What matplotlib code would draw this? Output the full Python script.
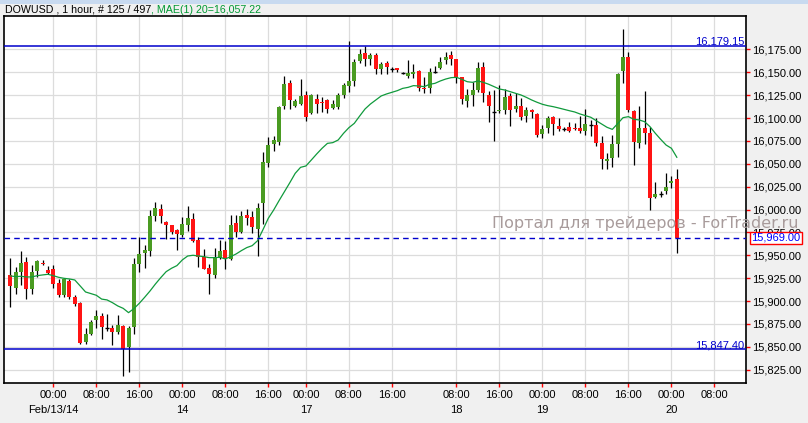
import matplotlib
matplotlib.use('Agg')
import matplotlib.pyplot as plt
from matplotlib.patches import Rectangle
from matplotlib.transforms import blended_transform_factory
import numpy as np

# ---------------- data ----------------
opens = [15928.6, 15914.7, 15931.9, 15943.2, 15913.3, 15933.0, 15941.3, 15934.4, 15935.1, 15920.2,
         15906.7, 15922.0, 15904.5, 15898.0, 15855.4, 15864.5, 15879.4, 15883.8, 15870.5, 15870.7,
         15866.3, 15872.8, 15850.2, 15872.1, 15940.6, 15953.0, 15955.2, 15993.4, 16000.7, 15986.5,
         15982.9, 15977.8, 15972.3, 15983.2, 15989.8, 15966.8, 15948.6, 15936.6, 15928.6, 15947.5,
         15955.9, 15946.1, 15985.4, 15975.9, 15994.5, 15992.0, 15978.8, 16007.0, 16050.6, 16071.7,
         16074.3, 16113.6, 16138.7, 16113.2, 16115.4, 16125.3, 16105.2, 16120.9, 16117.6, 16119.8,
         16111.4, 16112.5, 16125.3, 16135.5, 16140.9, 16162.4, 16170.8, 16165.0, 16169.0, 16153.7,
         16160.2, 16154.1, 16154.4, 16149.1, 16146.4, 16148.6, 16151.5, 16133.3, 16133.3, 16150.7,
         16155.1, 16163.5, 16169.0, 16164.2, 16144.9, 16119.1, 16125.3, 16130.7, 16156.0, 16125.3,
         16106.2, 16108.2, 16108.9, 16124.5, 16110.0, 16113.2, 16102.7, 16108.9, 16104.5, 16082.3,
         16089.6, 16100.9, 16091.4, 16087.7, 16089.9, 16089.2, 16089.6, 16086.3, 16092.3, 16092.5,
         16072.5, 16053.1, 16056.8, 16071.8, 16151.5, 16167.2, 16108.1, 16072.5, 16089.6, 16083.4,
         16013.4, 16017.2, 16020.7, 16029.5, 16033.1]
highs = [15947.2, 15937.0, 15954.8, 15947.9, 15939.5, 15945.0, 15945.0, 15938.8, 15939.5, 15924.6,
         15925.3, 15924.6, 15906.7, 15898.7, 15870.7, 15879.4, 15890.3, 15887.4, 15886.0, 15874.3,
         15884.9, 15873.9, 15873.2, 15947.5, 15970.5, 15961.4, 15999.6, 16008.4, 16006.2, 15987.2,
         15983.6, 15978.5, 15992.3, 16004.0, 15996.0, 15969.7, 15957.0, 15940.6, 15957.7, 15966.8,
         15966.1, 15994.1, 15994.1, 15998.5, 16000.7, 15998.5, 16007.6, 16063.0, 16079.0, 16080.5,
         16113.2, 16146.4, 16141.7, 16120.9, 16142.8, 16129.6, 16126.0, 16126.0, 16123.4, 16120.5,
         16119.8, 16127.1, 16138.0, 16184.0, 16164.2, 16175.9, 16179.2, 16171.5, 16171.5, 16161.7,
         16162.8, 16156.2, 16155.1, 16150.0, 16163.5, 16158.8, 16152.6, 16145.3, 16154.4, 16157.0,
         16166.4, 16172.6, 16173.7, 16164.6, 16145.3, 16131.5, 16139.1, 16161.0, 16161.3, 16130.0,
         16130.7, 16136.2, 16131.5, 16127.8, 16127.1, 16122.3, 16112.5, 16109.6, 16105.2, 16092.5,
         16102.7, 16102.7, 16100.5, 16090.7, 16096.1, 16095.0, 16102.7, 16110.0, 16098.0, 16100.5,
         16080.5, 16061.5, 16081.6, 16149.7, 16197.0, 16172.6, 16108.9, 16113.2, 16130.0, 16090.7,
         16029.8, 16020.7, 16039.7, 16036.7, 16044.4]
lows = [15894.0, 15907.4, 15917.6, 15902.7, 15908.2, 15926.8, 15939.2, 15929.3, 15914.7, 15904.2,
        15904.9, 15902.7, 15895.1, 15853.2, 15853.2, 15863.4, 15870.3, 15858.3, 15867.7, 15852.1,
        15864.5, 15818.6, 15822.9, 15864.1, 15932.2, 15936.6, 15949.3, 15988.0, 15985.0, 15968.3,
        15973.0, 15955.9, 15969.7, 15977.0, 15964.6, 15937.0, 15934.8, 15908.2, 15925.3, 15946.4,
        15935.5, 15945.0, 15970.5, 15974.1, 15982.9, 15974.1, 15949.7, 15984.5, 16047.0, 16064.0,
        16070.6, 16110.0, 16110.0, 16111.8, 16114.3, 16097.2, 16104.5, 16106.0, 16107.0, 16105.2,
        16110.3, 16110.0, 16122.3, 16128.9, 16135.5, 16159.9, 16157.0, 16158.0, 16147.8, 16147.8,
        16148.2, 16150.8, 16150.8, 16148.6, 16143.5, 16143.5, 16130.0, 16127.8, 16127.8, 16149.0,
        16153.3, 16159.1, 16157.7, 16138.0, 16115.4, 16112.5, 16113.6, 16129.0, 16118.0, 16096.1,
        16075.4, 16105.2, 16104.1, 16091.8, 16106.3, 16098.0, 16096.1, 16100.5, 16079.7, 16077.9,
        16083.4, 16081.6, 16085.9, 16086.3, 16084.5, 16087.0, 16084.1, 16081.6, 16080.8, 16069.5,
        16044.4, 16044.4, 16047.0, 16057.9, 16138.0, 16107.0, 16048.8, 16067.0, 16071.7, 15999.6,
        16012.3, 16014.0, 16017.1, 16023.3, 15953.0]
closes = [15916.6, 15931.9, 15941.7, 15913.3, 15931.9, 15943.9, 15940.6, 15930.8, 15919.1, 15906.7,
          15923.8, 15904.5, 15897.3, 15854.3, 15864.5, 15877.2, 15883.8, 15872.1, 15870.5, 15866.3,
          15873.9, 15847.3, 15870.7, 15940.6, 15951.5, 15956.3, 15993.4, 16001.8, 15993.4, 15983.6,
          15975.9, 15973.7, 15984.3, 15990.9, 15965.7, 15948.6, 15935.5, 15929.6, 15947.9, 15955.2,
          15945.7, 15983.6, 15975.9, 15993.0, 15991.2, 15981.0, 16001.8, 16052.0, 16070.6, 16076.1,
          16112.5, 16137.3, 16119.8, 16118.7, 16124.2, 16101.2, 16125.3, 16115.8, 16116.9, 16110.3,
          16115.8, 16125.3, 16136.2, 16140.9, 16161.7, 16170.1, 16165.0, 16169.3, 16153.3, 16159.1,
          16155.5, 16154.1, 16152.6, 16149.1, 16149.0, 16150.4, 16132.5, 16132.2, 16150.4, 16150.7,
          16161.0, 16166.4, 16165.0, 16144.9, 16121.3, 16125.3, 16130.7, 16154.4, 16127.0, 16113.2,
          16106.2, 16108.9, 16123.4, 16108.9, 16113.6, 16101.6, 16108.9, 16107.1, 16081.6, 16088.1,
          16100.5, 16093.6, 16088.1, 16087.7, 16086.3, 16087.7, 16086.3, 16093.6, 16092.3, 16072.5,
          16055.3, 16055.7, 16071.8, 16148.2, 16167.2, 16108.9, 16074.3, 16089.6, 16083.4, 16013.1,
          16017.1, 16017.2, 16025.1, 16031.7, 15969.0]
ma20 = [15927.5, 15926.8, 15927.1, 15926.4, 15926.4, 15927.8, 15928.6, 15929.3, 15927.8, 15926.0,
        15924.9, 15924.2, 15923.1, 15916.6, 15910.0, 15908.2, 15906.4, 15902.2, 15901.3, 15898.3,
        15894.7, 15892.1, 15887.4, 15891.8, 15897.6, 15904.2, 15911.1, 15918.7, 15925.7, 15932.2,
        15935.9, 15938.8, 15945.0, 15949.3, 15950.1, 15949.3, 15948.6, 15947.5, 15947.5, 15947.9,
        15946.1, 15948.6, 15951.5, 15955.2, 15958.5, 15960.6, 15966.0, 15978.0, 15990.5, 15999.6,
        16009.8, 16019.6, 16029.4, 16039.6, 16046.2, 16047.7, 16054.2, 16060.8, 16067.0, 16072.4,
        16073.2, 16076.1, 16083.4, 16089.6, 16094.3, 16102.3, 16110.0, 16115.4, 16119.8, 16124.2,
        16126.4, 16128.2, 16130.0, 16132.5, 16133.6, 16135.5, 16135.1, 16134.4, 16136.9, 16138.0,
        16140.6, 16142.7, 16144.2, 16144.6, 16142.4, 16139.8, 16139.1, 16140.6, 16139.1, 16137.0,
        16134.4, 16131.8, 16130.7, 16128.9, 16127.1, 16125.3, 16122.7, 16119.8, 16117.3, 16115.1,
        16113.6, 16112.5, 16111.1, 16109.6, 16108.1, 16106.7, 16104.5, 16102.7, 16100.9, 16097.2,
        16093.6, 16090.0, 16087.7, 16094.0, 16100.5, 16101.6, 16098.7, 16098.0, 16096.1, 16090.7,
        16083.4, 16076.8, 16070.6, 16067.0, 16057.2]

tick_bars = [8, 16, 24, 32, 40, 48, 55, 63, 71, 83, 91, 99, 107, 115, 123, 131]
tick_labels = ['00:00', '08:00', '16:00', '00:00', '08:00', '16:00', '00:00', '08:00', '16:00',
               '08:00', '16:00', '00:00', '08:00', '16:00', '00:00', '08:00']
date_bars = [8, 32, 55, 83, 99, 123]
date_labels = ['Feb/13/14', '14', '17', '18', '19', '20']
y_ticks = [15825, 15850, 15875, 15900, 15925, 15950, 15975, 16000, 16025, 16050,
           16075, 16100, 16125, 16150, 16175]
level_high = 16179.15
level_low = 15847.40
last_price = 15969.00
title_main = 'DOWUSD , 1 hour, # 125 / 497'
title_ma = ', MAE(1) 20=16,057.22'
watermark = 'Портал для трейдеров - ForTrader.ru'

# ---------------- style ----------------
W, H = 808, 423
FONT = 'Liberation Sans'
GREEN = '#4a9b22'
RED = '#ff1414'
BLUE = '#0000cc'
MA_COLOR = '#109a3c'
GRID = '#dcdcdc'

fig = plt.figure(figsize=(W / 100, H / 100), dpi=100, facecolor='#f0f0f0')
fig.patches.append(Rectangle((0, 1 - 4 / H), 1, 4 / H, transform=fig.transFigure,
                             facecolor='#c8daf0', edgecolor='none'))
ax = fig.add_axes([4 / W, 1 - 383 / H, 742 / W, 367 / H])
ax.set_facecolor('white')

n = len(closes)
x = np.arange(n)
o = np.array(opens); c = np.array(closes); h = np.array(highs); l = np.array(lows)

ax.set_xlim(-1.17, 136.87)
ax.set_ylim(15810.5, 16211.6)

# grid
for yt in y_ticks:
    ax.axhline(yt, color=GRID, lw=0.9, zorder=0)
for xt in tick_bars:
    ax.axvline(xt, color=GRID, lw=0.9, zorder=0)

# wicks
ax.vlines(x, l, h, color='black', lw=0.9, zorder=2)
# bodies
bw = 0.74
up = c > o
down = c < o
flat = c == o
ax.bar(x[up], np.maximum(c[up] - o[up], 1.1), bottom=o[up], width=bw, color=GREEN,
       edgecolor='none', zorder=3)
ax.bar(x[down], np.maximum(o[down] - c[down], 1.1), bottom=c[down], width=bw, color=RED,
       edgecolor='none', zorder=3)
ax.hlines(c[flat], x[flat] - bw / 2, x[flat] + bw / 2, color='black', lw=1.0, zorder=3)

# moving average
ax.plot(x, ma20, color=MA_COLOR, lw=0.9, zorder=4)

# horizontal levels
ax.axhline(level_high, color=BLUE, lw=1.1, zorder=5)
ax.axhline(level_low, color=BLUE, lw=1.1, zorder=5)
ax.axhline(last_price, color=BLUE, lw=1.0, ls=(0, (4, 3)), zorder=5)

bt = blended_transform_factory(ax.transAxes, ax.transData)
ax.text(1 - 1.5 / 742, level_high + 1.3, f'{level_high:,.2f}', transform=bt, ha='right',
        va='baseline', color=BLUE, fontsize=8, family=FONT, zorder=6)
ax.text(1 - 1.5 / 742, level_low + 1.3, f'{level_low:,.2f}', transform=bt, ha='right',
        va='baseline', color=BLUE, fontsize=8, family=FONT, zorder=6)
ax.text(1 + 5.5 / 742, last_price, f'{last_price:,.2f}', transform=bt, ha='left',
        va='center', color='#0000ff', fontsize=8, family=FONT, zorder=6,
        bbox=dict(boxstyle='square,pad=0.12', facecolor='white', edgecolor='#ff0000', lw=1.0),
        clip_on=False)

# axes / ticks
for sp in ax.spines.values():
    sp.set_color('black')
    sp.set_linewidth(1.2)
ax.yaxis.tick_right()
ax.set_yticks(y_ticks)
ax.set_yticklabels([f'{v:,.2f}' for v in y_ticks], family=FONT, fontsize=8)
ax.set_xticks(tick_bars)
ax.set_xticklabels(tick_labels, family=FONT, fontsize=8)
ax.tick_params(axis='y', which='both', direction='out', length=3, width=1, color='red',
               pad=1.2, labelcolor='black', right=True, left=False)
ax.tick_params(axis='x', which='both', direction='out', length=3, width=1, color='red',
               pad=2.0, labelcolor='black')

bx = blended_transform_factory(ax.transData, ax.transAxes)
for b, lab in zip(date_bars, date_labels):
    ax.text(b, -26.5 / 367, lab, transform=bx, ha='center', va='center', fontsize=8,
            family=FONT, color='black', clip_on=False)

# title
t1 = fig.text(5 / W, 1 - 12.8 / H, title_main, ha='left', va='baseline', fontsize=7.7,
              family=FONT, color='black')
ax.annotate(title_ma, xy=(1, 0), xycoords=t1, ha='left', va='bottom', fontsize=7.7,
            family=FONT, color='#009933', annotation_clip=False)

# watermark
fig.text(492 / W, 1 - 227.5 / H, watermark, ha='left', va='baseline', fontsize=11.5,
         family='DejaVu Sans', color='#a89b9b', zorder=10)

fig.savefig('out.png', dpi=100, facecolor=fig.get_facecolor())
